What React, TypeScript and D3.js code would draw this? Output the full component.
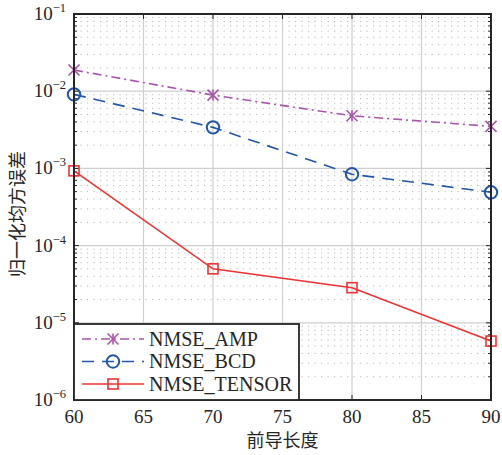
import * as d3 from "d3";
import React from "react";

const width = 502;
const height = 455;
const margin = { top: 14, right: 11, bottom: 55, left: 74 };

// pilot length (x) and NMSE per method
const pilotLengths = [60, 70, 80, 90];
const nmseAmp = [0.0188, 0.0089, 0.0048, 0.0035];
const nmseBcd = [0.0091, 0.0034, 0.00084, 0.00049];
const nmseTensor = [0.00093, 0.00005, 0.0000285, 0.0000058];

const xTicks = [60, 65, 70, 75, 80, 85, 90];
const yExponents = [-6, -5, -4, -3, -2, -1];
const seriesNames = ["NMSE_AMP", "NMSE_BCD", "NMSE_TENSOR"];

const font = "Liberation Serif, Times New Roman, serif";
const cjkFont = "Noto Sans CJK SC, sans-serif";

const series = [
  { name: seriesNames[0], values: nmseAmp, color: "#a855ab", dash: "9,4,2,4", marker: "star" },
  { name: seriesNames[1], values: nmseBcd, color: "#2356a8", dash: "12,8", marker: "circle" },
  { name: seriesNames[2], values: nmseTensor, color: "#ee3333", dash: null, marker: "square" },
];

const Marker = ({ type, x, y, color }) => {
  if (type === "circle")
    return <circle cx={x} cy={y} r={6.2} fill="none" stroke={color} strokeWidth={2} />;
  if (type === "square")
    return <rect x={x - 5} y={y - 5} width={10} height={10} fill="none" stroke={color} strokeWidth={1.6} />;
  const s = 5.5;
  return (
    <g stroke={color} strokeWidth={1.6}>
      <line x1={x - s} y1={y - s} x2={x + s} y2={y + s} />
      <line x1={x - s} y1={y + s} x2={x + s} y2={y - s} />
      <line x1={x} y1={y - s} x2={x} y2={y + s} />
    </g>
  );
};

export default function App() {
  const x = d3
    .scaleLinear()
    .domain([60, 90])
    .range([margin.left, width - margin.right]);
  const y = d3
    .scaleLog()
    .domain([1e-6, 1e-1])
    .range([height - margin.bottom, margin.top]);

  // minor log ticks 2..9 in each decade
  const minor = [];
  yExponents.slice(0, -1).forEach((e) => {
    for (let k = 2; k <= 9; k++) minor.push(k * Math.pow(10, e));
  });

  const line = d3
    .line()
    .x((d) => x(d[0]))
    .y((d) => y(d[1]));

  const x0 = margin.left;
  const x1 = width - margin.right;
  const y0 = height - margin.bottom;
  const y1 = margin.top;

  const legend = { x: x0, y: 324, w: 225, h: y0 - 324 };
  const serif = { fontFamily: font };

  return (
    <svg
      width={width}
      height={height}
      style={{ position: "absolute", left: 0, top: 0, background: "#fff" }}
    >
      <rect x={0} y={0} width={width} height={height} fill="#fff" />
      {/* minor grid */}
      {minor.map((v, i) => (
        <line key={"mg" + i} x1={x0} x2={x1} y1={y(v)} y2={y(v)} stroke="#b8b8b8" strokeWidth={1} strokeDasharray="1.2,5.3" />
      ))}
      {/* major grid */}
      {xTicks.slice(1, -1).map((t) => (
        <line key={"gx" + t} x1={x(t)} x2={x(t)} y1={y0} y2={y1} stroke="#cfcfcf" strokeWidth={1.2} />
      ))}
      {yExponents.slice(1, -1).map((e) => (
        <line key={"gy" + e} x1={x0} x2={x1} y1={y(Math.pow(10, e))} y2={y(Math.pow(10, e))} stroke="#cfcfcf" strokeWidth={1.2} />
      ))}

      {/* ticks */}
      {xTicks.map((t) => (
        <g key={"tx" + t} stroke="#262626" strokeWidth={1}>
          <line x1={x(t)} x2={x(t)} y1={y0} y2={y0 - 5} />
          <line x1={x(t)} x2={x(t)} y1={y1} y2={y1 + 5} />
        </g>
      ))}
      {yExponents.map((e) => (
        <g key={"ty" + e} stroke="#262626" strokeWidth={1}>
          <line x1={x0} x2={x0 + 5} y1={y(Math.pow(10, e))} y2={y(Math.pow(10, e))} />
          <line x1={x1} x2={x1 - 5} y1={y(Math.pow(10, e))} y2={y(Math.pow(10, e))} />
        </g>
      ))}
      {minor.map((v, i) => (
        <g key={"mt" + i} stroke="#262626" strokeWidth={1}>
          <line x1={x0} x2={x0 + 3} y1={y(v)} y2={y(v)} />
          <line x1={x1} x2={x1 - 3} y1={y(v)} y2={y(v)} />
        </g>
      ))}

      {/* series */}
      {series.map((s) => {
        const pts = pilotLengths.map((p, i) => [p, s.values[i]]);
        return (
          <g key={s.name}>
            <path d={line(pts)} fill="none" stroke={s.color} strokeWidth={1.6} strokeDasharray={s.dash || undefined} />
            {pts.map((d, i) => (
              <Marker key={i} type={s.marker} x={x(d[0])} y={y(d[1])} color={s.color} />
            ))}
          </g>
        );
      })}

      {/* axes box */}
      <rect x={x0} y={y1} width={x1 - x0} height={y0 - y1} fill="none" stroke="#262626" strokeWidth={2} />

      {/* legend */}
      <rect x={legend.x} y={legend.y} width={legend.w} height={legend.h} fill="#fff" stroke="#262626" strokeWidth={1.8} />
      {series.map((s, i) => {
        const ly = 339 + i * 22.5;
        return (
          <g key={"lg" + s.name}>
            <line x1={82} x2={144} y1={ly} y2={ly} stroke={s.color} strokeWidth={1.6} strokeDasharray={s.dash || undefined} />
            <Marker type={s.marker} x={113} y={ly} color={s.color} />
            <text x={149} y={ly + 6.5} style={serif} fontSize={20} fill="#262626">
              {s.name}
            </text>
          </g>
        );
      })}

      {/* tick labels */}
      {xTicks.map((t) => (
        <text key={"lx" + t} x={x(t)} y={y0 + 23} textAnchor="middle" style={serif} fontSize={19} fill="#262626">
          {t}
        </text>
      ))}
      {yExponents.map((e) => (
        <text key={"ly" + e} x={66} y={y(Math.pow(10, e)) + 6} textAnchor="end" style={serif} fontSize={19} fill="#262626">
          10
          <tspan dy={-8} fontSize={12.5}>
            {"\u2212" + Math.abs(e)}
          </tspan>
        </text>
      ))}

      {/* axis titles */}
      <text x={(x0 + x1) / 2} y={447} textAnchor="middle" style={{ fontFamily: cjkFont }} fontSize={18} fill="#262626">
        前导长度
      </text>
      <text
        transform={`translate(24, ${(y0 + y1) / 2 + 7}) rotate(-90)`}
        textAnchor="middle"
        style={{ fontFamily: cjkFont }}
        fontSize={18}
        fill="#262626"
      >
        归一化均方误差
      </text>
    </svg>
  );
}
